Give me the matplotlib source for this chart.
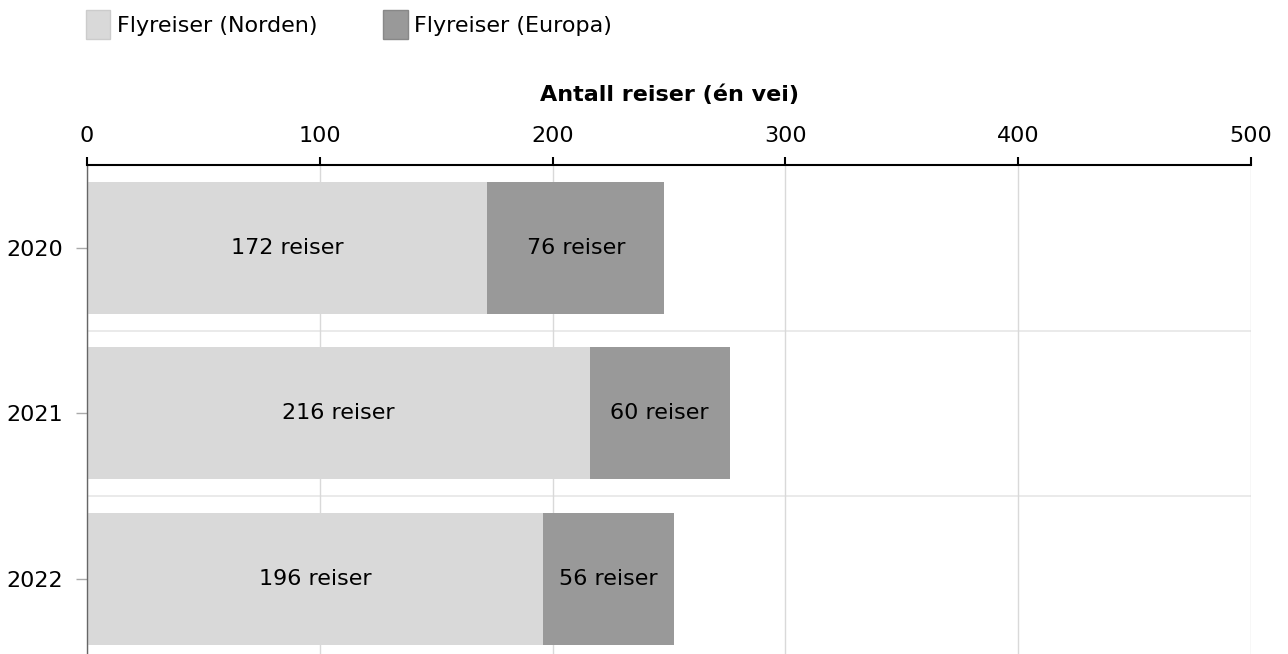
import matplotlib.pyplot as plt
from matplotlib.patches import Patch

# data
years = ['2020', '2021', '2022']
norden = [172, 216, 196]
europa = [76, 60, 56]
series_names = ['Flyreiser (Norden)', 'Flyreiser (Europa)']
colors = ['#d9d9d9', '#999999']
edges = ['#cccccc', '#888888']

plt.rcParams['font.family'] = 'DejaVu Sans'
fs = 16

fig = plt.figure(figsize=(12.88, 6.54), dpi=100)
ax = fig.add_axes([87 / 1288, 0, (1251 - 87) / 1288, 1 - 165 / 654])

pos = list(range(len(years)))
b1 = ax.barh(pos, norden, height=0.8, color=colors[0], zorder=2)
b2 = ax.barh(pos, europa, left=norden, height=0.8, color=colors[1], zorder=2)
ax.bar_label(b1, labels=[f'{v} reiser' for v in norden], label_type='center', fontsize=fs)
ax.bar_label(b2, labels=[f'{v} reiser' for v in europa], label_type='center', fontsize=fs)

ax.set_xlim(0, 500)
ax.set_ylim(-0.5 + (654 - 165) / 165.5, -0.5)
ax.set_yticks(pos)
ax.set_yticklabels(years, fontsize=fs)
ax.set_xticks([0, 100, 200, 300, 400, 500])
ax.xaxis.tick_top()
ax.xaxis.set_label_position('top')
ax.tick_params(axis='x', labelsize=fs, length=6, width=1.5, color='black', pad=7.5)
ax.tick_params(axis='y', length=8, width=1, color='#aaaaaa', pad=9)
ax.set_xlabel('Antall reiser (én vei)', fontsize=fs, fontweight='bold', labelpad=18)

ax.grid(axis='x', color='#d9d9d9', linewidth=1, zorder=0)
for i in pos[:-1]:
    ax.axhline(i + 0.5, color='#e6e6e6', linewidth=1.2, zorder=0)

for s in ['right', 'bottom']:
    ax.spines[s].set_visible(False)
ax.spines['top'].set_color('black')
ax.spines['top'].set_linewidth(1.5)
ax.spines['left'].set_color('#666666')
ax.spines['left'].set_linewidth(1)

handles = [Patch(facecolor=c, edgecolor=e, label=n) for c, e, n in zip(colors, edges, series_names)]
fig.legend(handles=handles, loc='upper left', bbox_to_anchor=(66 / 1288, 1 + 10 / 654), ncol=2,
           frameon=False, fontsize=fs, handlelength=1.1, handleheight=1.6, handletextpad=0.3,
           columnspacing=2.95)

fig.savefig('out.png', dpi=100)
